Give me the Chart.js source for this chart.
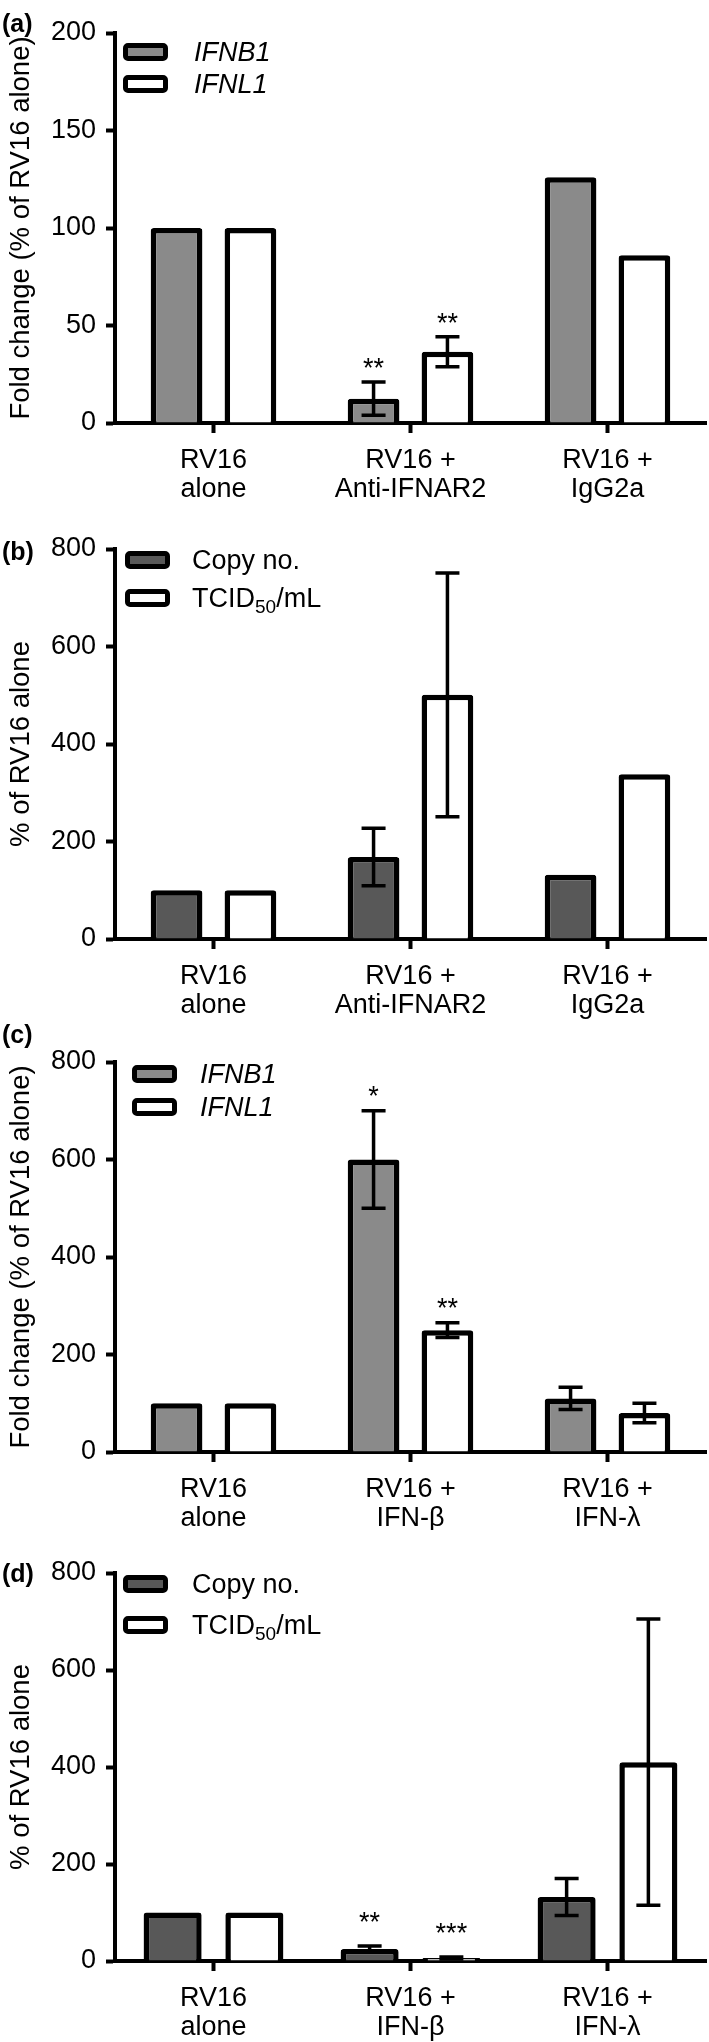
<!DOCTYPE html>
<html>
<head>
<meta charset="utf-8">
<script src="https://cdn.jsdelivr.net/npm/chart.js@4.4.1/dist/chart.umd.min.js"></script>
<style>
    body { margin: 0; width: 709px; height: 2042px; position: relative; background: #fff;
           font-family: 'Liberation Sans', Arial, sans-serif; overflow: hidden; }
    canvas { position: absolute; left: 0; }
    .tag { position: absolute; left: 2px; font-weight: bold; font-size: 25px; line-height: 30px; }
    .sw { position: absolute; box-sizing: border-box; width: 45px; height: 18px;
          border: 5.5px solid #000; border-radius: 5px; }
    .key { position: absolute; font-size: 27px; line-height: 30px; white-space: nowrap; }
    .key sub { font-size: 19px; vertical-align: -6px; line-height: 0; }
</style>
</head>
<body>
<script>
// categories
const groupsAb = [['RV16', 'alone'], ['RV16 +', 'Anti-IFNAR2'], ['RV16 +', 'IgG2a']];
const groupsIfn = [['RV16', 'alone'], ['RV16 +', 'IFN-β'], ['RV16 +', 'IFN-λ']];

// (a) IFNB1 / IFNL1 mRNA, anti-IFNAR2
const aIFNB1 = [100, 12.5, 126];
const aIFNB1Err = [0, 8.5, 0];
const aIFNB1Stars = ['', '**', ''];
const aIFNL1 = [100, 36.5, 86];
const aIFNL1Err = [0, 7.7, 0];
const aIFNL1Stars = ['', '**', ''];

// (b) virus, anti-IFNAR2
const bCopy = [100, 168, 132];
const bCopyErr = [0, 59, 0];
const bTcid = [100, 501, 338];
const bTcidErr = [0, 250, 0];

// (c) IFNB1 / IFNL1 mRNA, IFN treatment
const cIFNB1 = [100, 600, 110];
const cIFNB1Err = [0, 100, 23];
const cIFNB1Stars = ['', '*', ''];
const cIFNL1 = [100, 250, 80];
const cIFNL1Err = [0, 15, 20];
const cIFNL1Stars = ['', '**', ''];

// (d) virus, IFN treatment
const dCopy = [100, 25, 132];
const dCopyErr = [0, 6, 38];
const dCopyStars = ['', '**', ''];
const dTcid = [100, 6, 410];
const dTcidErr = [0, 2, 295];
const dTcidStars = ['', '***', ''];

const FONT = "'Liberation Sans', Arial, sans-serif";
const LIGHT = '#8a8a8a';
const DARK = '#585858';

Chart.defaults.font.family = FONT;
Chart.defaults.color = '#000';

// error bars and significance stars, placed via the y scale
const errorBars = {
    id: 'errorBars',
    afterDatasetsDraw(chart, args, opts) {
        const ctx = chart.ctx;
        const y = chart.scales.y;
        chart.data.datasets.forEach((ds, i) => {
            const meta = chart.getDatasetMeta(i);
            meta.data.forEach((bar, j) => {
                const v = ds.data[j];
                const e = ds.errors ? ds.errors[j] : 0;
                let top = y.getPixelForValue(v);
                ctx.save();
                ctx.strokeStyle = '#000';
                ctx.lineWidth = 3.5;
                if (e > 0) {
                    const hi = y.getPixelForValue(v + e);
                    const lo = y.getPixelForValue(Math.max(0, v - e));
                    ctx.beginPath();
                    ctx.moveTo(bar.x, hi); ctx.lineTo(bar.x, lo);
                    ctx.moveTo(bar.x - 12, hi); ctx.lineTo(bar.x + 12, hi);
                    ctx.moveTo(bar.x - 12, lo); ctx.lineTo(bar.x + 12, lo);
                    ctx.stroke();
                    top = hi;
                }
                if (ds.stars && ds.stars[j]) {
                    ctx.fillStyle = '#000';
                    ctx.font = '27px ' + FONT;
                    ctx.textAlign = 'center';
                    ctx.textBaseline = 'alphabetic';
                    ctx.fillText(ds.stars[j], bar.x, top - opts.starGap + 15);
                }
                ctx.restore();
            });
        });
    }
};

function addPanel(cfg) {
    const canvas = document.createElement('canvas');
    canvas.width = 709;
    canvas.height = cfg.height;
    canvas.style.top = cfg.top + 'px';
    document.body.appendChild(canvas);

    // panel tag
    const tag = document.createElement('div');
    tag.className = 'tag';
    tag.style.top = (cfg.tagY - 15) + 'px';
    tag.textContent = cfg.tag;
    document.body.appendChild(tag);

    // legend
    cfg.series.forEach((s, k) => {
        const sw = document.createElement('div');
        sw.className = 'sw';
        sw.style.left = cfg.keyX + 'px';
        sw.style.top = cfg.keyY[k] + 'px';
        sw.style.background = s.fill;
        document.body.appendChild(sw);
        const txt = document.createElement('div');
        txt.className = 'key';
        txt.style.left = cfg.keyTextX + 'px';
        txt.style.top = (cfg.keyY[k] + 9 - 15) + 'px';
        if (cfg.italic) txt.style.fontStyle = 'italic';
        txt.innerHTML = s.html;
        document.body.appendChild(txt);
    });

    new Chart(canvas, {
        type: 'bar',
        data: {
            labels: cfg.labels,
            datasets: cfg.series.map(s => ({
                label: s.name,
                data: s.values,
                errors: s.errors,
                stars: s.stars,
                backgroundColor: s.fill,
                borderColor: '#000',
                borderWidth: 5.5,
                borderRadius: 3,
                categoryPercentage: cfg.cat,
                barPercentage: cfg.bar
            }))
        },
        options: {
            responsive: false,
            animation: false,
            layout: { padding: { top: cfg.axisTop - cfg.top, right: 3, left: 0, bottom: 0 } },
            plugins: {
                legend: { display: false },
                tooltip: { enabled: false },
                errorBars: { starGap: cfg.starGap }
            },
            scales: {
                x: {
                    offset: true,
                    grid: { offset: false, drawOnChartArea: false, tickLength: 10, tickWidth: 4, tickColor: '#000' },
                    border: { width: 4, color: '#000' },
                    ticks: { padding: 14, color: '#000', maxRotation: 0, autoSkip: false,
                             font: { size: 27, lineHeight: 1.04 } },
                    afterFit: s => { s.height = cfg.top + cfg.height - cfg.axisZero; }
                },
                y: {
                    min: 0,
                    max: cfg.max,
                    ticks: { stepSize: cfg.step, padding: 10, color: '#000', font: { size: 27 } },
                    grid: { drawOnChartArea: false, tickLength: 9, tickWidth: 4, tickColor: '#000' },
                    border: { width: 4, color: '#000' },
                    title: { display: true, text: cfg.yTitle, color: '#000',
                             font: { size: 27.5 }, padding: { top: 5, bottom: 0 } },
                    afterFit: s => { s.width = 115; }
                }
            }
        },
        plugins: [errorBars]
    });
}

addPanel({
    tag: '(a)', tagY: 23, top: 0, height: 510, axisTop: 33, axisZero: 423,
    max: 200, step: 50, cat: 0.75, bar: 0.70, starGap: 20, italic: true,
    yTitle: 'Fold change (% of RV16 alone)', labels: groupsAb,
    keyX: 123, keyTextX: 194, keyY: [43, 75],
    series: [
        { name: 'IFNB1', html: 'IFNB1', values: aIFNB1, errors: aIFNB1Err, stars: aIFNB1Stars, fill: LIGHT },
        { name: 'IFNL1', html: 'IFNL1', values: aIFNL1, errors: aIFNL1Err, stars: aIFNL1Stars, fill: '#fff' }
    ]
});

addPanel({
    tag: '(b)', tagY: 551, top: 510, height: 510, axisTop: 549, axisZero: 939,
    max: 800, step: 200, cat: 0.75, bar: 0.70, starGap: 20, italic: false,
    yTitle: '% of RV16 alone', labels: groupsAb,
    keyX: 125, keyTextX: 192, keyY: [551, 589],
    series: [
        { name: 'Copy no.', html: 'Copy no.', values: bCopy, errors: bCopyErr, fill: DARK },
        { name: 'TCID50/mL', html: 'TCID<sub>50</sub>/mL', values: bTcid, errors: bTcidErr, fill: '#fff' }
    ]
});

addPanel({
    tag: '(c)', tagY: 1034, top: 1020, height: 510, axisTop: 1062, axisZero: 1452,
    max: 800, step: 200, cat: 0.75, bar: 0.70, starGap: 21, italic: true,
    yTitle: 'Fold change (% of RV16 alone)', labels: groupsIfn,
    keyX: 132, keyTextX: 200, keyY: [1065, 1098],
    series: [
        { name: 'IFNB1', html: 'IFNB1', values: cIFNB1, errors: cIFNB1Err, stars: cIFNB1Stars, fill: LIGHT },
        { name: 'IFNL1', html: 'IFNL1', values: cIFNL1, errors: cIFNL1Err, stars: cIFNL1Stars, fill: '#fff' }
    ]
});

addPanel({
    tag: '(d)', tagY: 1573, top: 1530, height: 512, axisTop: 1573, axisZero: 1961,
    max: 800, step: 200, cat: 0.83, bar: 0.71, starGap: 30, italic: false,
    yTitle: '% of RV16 alone', labels: groupsIfn,
    keyX: 123, keyTextX: 192, keyY: [1575, 1616],
    series: [
        { name: 'Copy no.', html: 'Copy no.', values: dCopy, errors: dCopyErr, stars: dCopyStars, fill: DARK },
        { name: 'TCID50/mL', html: 'TCID<sub>50</sub>/mL', values: dTcid, errors: dTcidErr, stars: dTcidStars, fill: '#fff' }
    ]
});
</script>
</body>
</html>
